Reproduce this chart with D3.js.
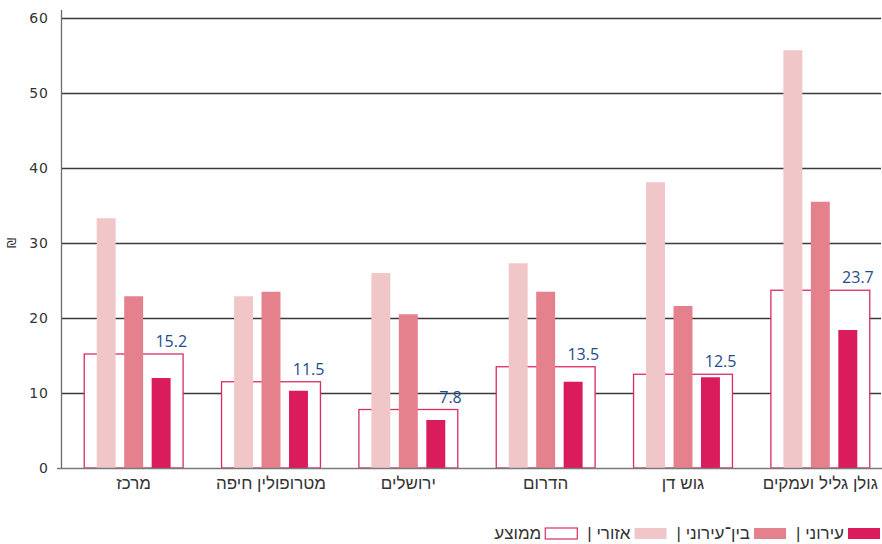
<!DOCTYPE html>
<html lang="he">
<head>
<meta charset="utf-8">
<script src="https://cdn.jsdelivr.net/npm/d3@7"></script>
<style>
  html, body { margin: 0; padding: 0; background: #fff; }
  svg { display: block; }
  .tick-label { font-family: "DejaVu Sans", sans-serif; font-size: 14px; letter-spacing: 1px; fill: #333; }
  .cat-label { font-family: "Liberation Sans", "DejaVu Sans", sans-serif; font-size: 17px; fill: #333; }
  .value-label { font-family: "Open Sans", Lato, sans-serif; font-size: 16px; fill: #1f4b8e; }
  .legend-label { font-family: "Liberation Sans", "DejaVu Sans", sans-serif; font-size: 17px; fill: #333; }
</style>
</head>
<body>
<div id="chart-mount"></div>
<script>
var WIDTH = 882;
var HEIGHT = 544;

var CATEGORIES = ['מרכז', 'מטרופולין חיפה', 'ירושלים', 'הדרום', 'גוש דן', 'גולן גליל ועמקים'];
var REGIONAL = [33.3, 22.9, 26.0, 27.3, 38.1, 55.7];
var INTER_URBAN = [22.9, 23.5, 20.5, 23.5, 21.6, 35.5];
var URBAN = [12.0, 10.3, 6.4, 11.5, 12.1, 18.4];
var AVERAGE = [15.2, 11.5, 7.8, 13.5, 12.5, 23.7];
var Y_TICKS = [0, 10, 20, 30, 40, 50, 60];

var SERIES = [
  { key: 'regional', label: 'אזורי |', values: REGIONAL, color: '#f1c6c8' },
  { key: 'inter', label: 'בין־עירוני |', values: INTER_URBAN, color: '#e5818c' },
  { key: 'urban', label: 'עירוני |', values: URBAN, color: '#da1c5c' }
];

var BOX_STROKE = '#dd2a67';

var $svg = d3.select('#chart-mount').append('svg')
  .attr('width', WIDTH)
  .attr('height', HEIGHT);

var x = d3.scaleBand()
  .domain(CATEGORIES)
  .range([65, 889])
  .padding(0);

var xInner = d3.scaleBand()
  .domain(SERIES.map(function (s) { return s.key; }))
  .range([0, x.bandwidth() * 0.6])
  .paddingInner(0.31)
  .paddingOuter(0.155);

var y = d3.scaleLinear()
  .domain([0, 60])
  .range([468, 18]);

function drawGrid () {
  var grid = $svg.append('g');
  grid.selectAll('line')
    .data(Y_TICKS.filter(function (d) { return d > 0; }))
    .enter()
      .append('line')
      .attr('x1', 61)
      .attr('x2', 881)
      .attr('y1', function (d) { return y(d) + 0.5; })
      .attr('y2', function (d) { return y(d) + 0.5; })
      .attr('stroke', '#3a3a3a')
      .attr('stroke-width', 1.3);

  grid.selectAll('text')
    .data(Y_TICKS)
    .enter()
      .append('text')
      .attr('class', 'tick-label')
      .attr('x', 49)
      .attr('y', function (d) { return y(d); })
      .attr('dy', '0.36em')
      .attr('text-anchor', 'end')
      .text(function (d) { return d; });

  // currency unit, turned on its side
  $svg.append('text')
    .attr('font-family', 'DejaVu Sans, sans-serif')
    .attr('font-size', 13)
    .attr('fill', '#333')
    .attr('text-anchor', 'middle')
    .attr('transform', 'translate(16, ' + y(30) + ') rotate(-90)')
    .text('₪');
}

function drawAverages () {
  var boxW = x.bandwidth() * 0.72;
  var g = $svg.append('g');
  g.selectAll('rect')
    .data(AVERAGE)
    .enter()
      .append('rect')
      .attr('x', function (d, i) { return x(CATEGORIES[i]) + x.bandwidth() / 2 - boxW / 2; })
      .attr('y', function (d) { return y(d); })
      .attr('width', boxW)
      .attr('height', function (d) { return y(0) - y(d); })
      .attr('fill', '#fff')
      .attr('stroke', BOX_STROKE)
      .attr('stroke-width', 1.3);

  g.selectAll('text')
    .data(AVERAGE)
    .enter()
      .append('text')
      .attr('class', 'value-label')
      .attr('x', function (d, i) { return x(CATEGORIES[i]) + x.bandwidth() / 2 + boxW / 2 + 4; })
      .attr('y', function (d) { return y(d) - 7; })
      .attr('text-anchor', 'end')
      .text(function (d) { return d.toFixed(1); });
}

function drawBars () {
  var offset = x.bandwidth() / 2 - x.bandwidth() * 0.3;
  $svg.append('g')
    .selectAll('g')
    .data(SERIES)
    .enter()
      .append('g')
      .attr('fill', function (s) { return s.color; })
    .selectAll('rect')
      .data(function (s) {
        return s.values.map(function (v, i) { return { key: s.key, cat: CATEGORIES[i], value: v }; });
      })
      .enter()
        .append('rect')
        .attr('x', function (d) { return x(d.cat) + offset + xInner(d.key); })
        .attr('y', function (d) { return y(d.value); })
        .attr('width', xInner.bandwidth())
        .attr('height', function (d) { return y(0) - y(d.value); });
}

function drawAxes () {
  $svg.append('line')
    .attr('x1', 61.5).attr('x2', 61.5)
    .attr('y1', 10).attr('y2', 469)
    .attr('stroke', '#6b6b6b')
    .attr('stroke-width', 1.3);

  $svg.append('line')
    .attr('x1', 57).attr('x2', 882)
    .attr('y1', 468.5).attr('y2', 468.5)
    .attr('stroke', '#7a7a7a')
    .attr('stroke-width', 1.6);

  $svg.append('g')
    .selectAll('text')
    .data(CATEGORIES)
    .enter()
      .append('text')
      .attr('class', 'cat-label')
      .attr('x', function (d) { return x(d) + x.bandwidth() / 2; })
      .attr('y', 489)
      .attr('text-anchor', 'middle')
      .text(function (d) { return d; });
}

function drawLegend () {
  var items = SERIES.slice().reverse().map(function (s) {
    return { label: s.label, color: s.color, outline: false };
  });
  items.push({ label: 'ממוצע', color: '#fff', outline: true });

  var g = $svg.append('g');
  var right = 880;
  items.forEach(function (item) {
    g.append('rect')
      .attr('x', right - 32)
      .attr('y', 528)
      .attr('width', 32)
      .attr('height', 11)
      .attr('fill', item.color)
      .attr('stroke', item.outline ? BOX_STROKE : null)
      .attr('stroke-width', item.outline ? 1.2 : null);

    var label = g.append('text')
      .attr('class', 'legend-label')
      .attr('direction', 'rtl')
      .attr('text-anchor', 'middle')
      .attr('y', 539)
      .text(item.label);
    var w = label.node().getComputedTextLength();
    var textRight = right - 32 - 4;
    label.attr('x', textRight - w / 2);
    right = textRight - w - 10;
  });
}

drawGrid();
drawAverages();
drawBars();
drawAxes();
drawLegend();
</script>
</body>
</html>
